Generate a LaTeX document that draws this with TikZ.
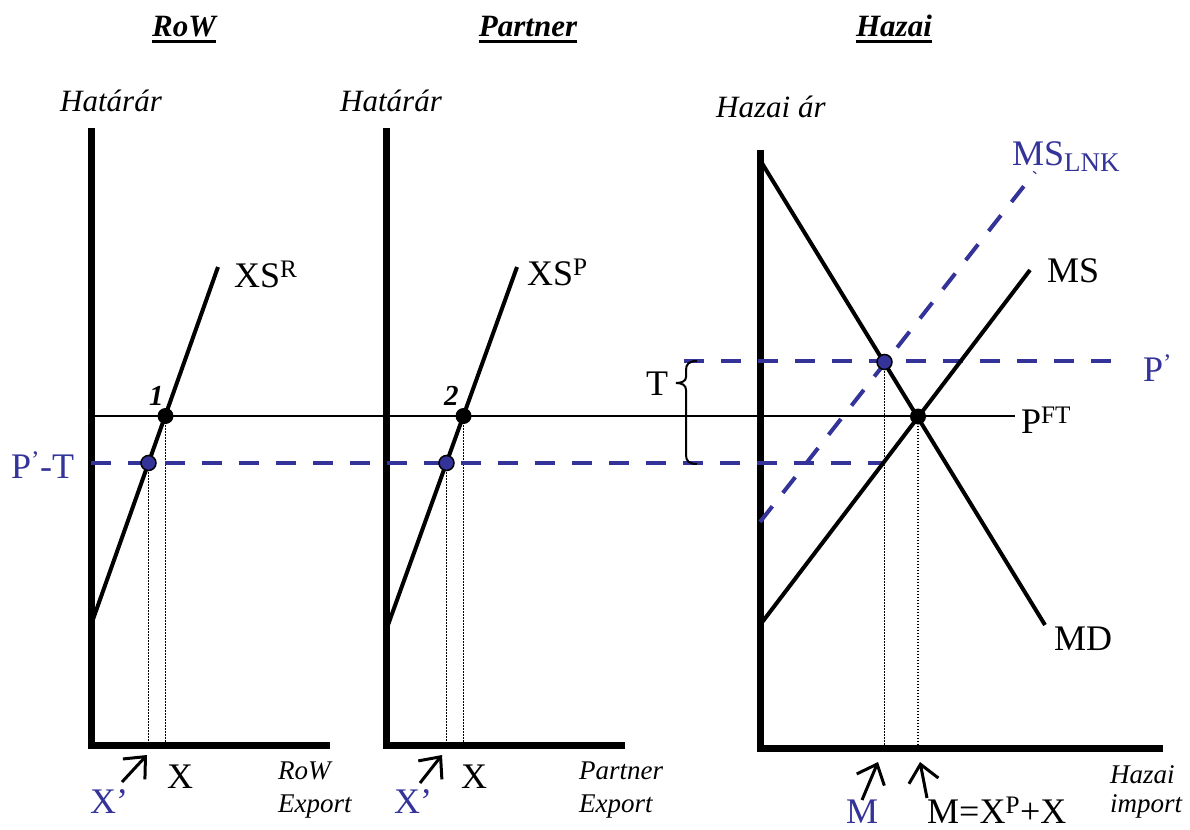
\documentclass[tikz,border=0pt]{standalone}
\usepackage{fontspec}
\setmainfont{Liberation Serif}
\usetikzlibrary{arrows.meta}
\definecolor{lblue}{RGB}{51,51,153}
\begin{document}
\begin{tikzpicture}[x=1pt,y=-1pt,
  axis/.style={line width=7pt},
  curve/.style={line width=4pt},
  bdash/.style={lblue,line width=4pt,dash pattern=on 20pt off 17pt},
  thinl/.style={line width=1.5pt},
  dotl/.style={line width=1.2pt,dash pattern=on 1.5pt off 1.5pt},
  lbl/.style={font=\fontsize{36}{40}\selectfont,inner sep=0pt,anchor=base west},
  ilbl/.style={font=\fontsize{31}{36}\selectfont\itshape,inner sep=0pt,anchor=base west},
  slbl/.style={font=\fontsize{27}{30}\selectfont\itshape,inner sep=0pt,anchor=base west},
  ttl/.style={font=\fontsize{31}{36}\selectfont\bfseries\itshape,inner sep=0pt,anchor=base},
  numl/.style={font=\fontsize{29}{32}\selectfont\bfseries\itshape,inner sep=0pt,anchor=base west},
  bdot/.style={fill=black},
  udot/.style={fill=lblue,draw=black,line width=1.5pt},
  uparr/.style={line width=3pt,-{Straight Barb[length=17pt,width=30pt]}}
]
\useasboundingbox (0,0) rectangle (1190,829);

% ---------- coordinates ----------
\coordinate (LAt) at (91,128);   \coordinate (LAb) at (91,748);
\coordinate (LHs) at (88,745);   \coordinate (LHe) at (330,745);
\coordinate (MAt) at (386,128);  \coordinate (MAb) at (386,748);
\coordinate (MHs) at (383,745);  \coordinate (MHe) at (625,745);
\coordinate (RAt) at (760,150);  \coordinate (RAb) at (760,751);
\coordinate (RHs) at (757,748);  \coordinate (RHe) at (1163,748);

\coordinate (XSRa) at (91,625);  \coordinate (XSRb) at (218,267);
\coordinate (XSPa) at (388,625); \coordinate (XSPb) at (517,267);
\coordinate (MDa) at (760,160);  \coordinate (MDb) at (1045,625);
\coordinate (MSa) at (760,625);  \coordinate (MSb) at (1030,270);
\coordinate (MLa) at (760,522);  \coordinate (MLb) at (1035,172);

\coordinate (p1) at (165.5,416); \coordinate (q1) at (148.5,463);
\coordinate (p2) at (463.5,416); \coordinate (q2) at (446.5,463);
\coordinate (p3) at (918,416.5); \coordinate (q3) at (884.5,362);

\coordinate (ftS) at (88,416);   \coordinate (ftE) at (1015,416);
\coordinate (ptS) at (91,463);   \coordinate (ptE) at (885,463);
\coordinate (pS) at (684,361);   \coordinate (pE) at (1120,361);

% ---------- axes ----------
\draw[axis] (LAt) -- (LAb);  \draw[axis] (LHs) -- (LHe);
\draw[axis] (MAt) -- (MAb);  \draw[axis] (MHs) -- (MHe);
\draw[axis] (RAt) -- (RAb);  \draw[axis] (RHs) -- (RHe);

% ---------- dotted drop lines ----------
\draw[dotl] (q1) -- (q1 |- LHs);
\draw[dotl] (p1) -- (p1 |- LHs);
\draw[dotl] (q2) -- (q2 |- MHs);
\draw[dotl] (p2) -- (p2 |- MHs);
\draw[dotl] (q3) -- (q3 |- RHs);
\draw[dotl] (p3) -- (p3 |- RHs);

% ---------- price lines ----------
\draw[thinl] (ftS) -- (ftE);
\draw[bdash] (ptS) -- (ptE);
\draw[bdash] (pS) -- (pE);

% ---------- curves ----------
\draw[curve] (XSRa) -- (XSRb);
\draw[curve] (XSPa) -- (XSPb);
\draw[curve] (MDa) -- (MDb);
\draw[curve] (MSa) -- (MSb);
\draw[bdash] (MLa) -- (MLb);

% ---------- brace ----------
\draw[line width=2pt] (697,361) .. controls (689,361) and (686,364) .. (686,370)
  -- (686,377) .. controls (686,381) and (682,383) .. (676,383)
  .. controls (682,383) and (686,385) .. (686,390)
  -- (686,455) .. controls (686,461) and (689,464) .. (697,464);

% ---------- dots ----------
\fill[bdot] (p1) circle[radius=8pt];
\fill[bdot] (p2) circle[radius=8pt];
\fill[bdot] (p3) circle[radius=8pt];
\draw[udot] (q1) circle[radius=7.5pt];
\draw[udot] (q2) circle[radius=7.5pt];
\draw[udot] (q3) circle[radius=7.5pt];

% ---------- titles ----------
\node[ttl] (tR) at (184,37) {RoW};
\node[ttl] (tP) at (528,37) {Partner};
\node[ttl] (tH) at (894,37) {Hazai};
\draw[line width=3pt] ([yshift=-5pt]tR.base west) -- ([yshift=-5pt]tR.base east);
\draw[line width=3pt] ([yshift=-5pt]tP.base west) -- ([yshift=-5pt]tP.base east);
\draw[line width=3pt] ([yshift=-5pt]tH.base west) -- ([yshift=-5pt]tH.base east);

% ---------- axis labels ----------
\node[ilbl] (yL) at (60,112) {Határár};
\node[ilbl] (yM) at (340,112) {Határár};
\node[ilbl] (yR) at (716,118) {Hazai ár};

\node[slbl] (xL1) at (278,779) {RoW};
\node[slbl] (xL2) at (278,812) {Export};
\node[slbl] (xM1) at (579,779) {Partner};
\node[slbl] (xM2) at (579,812) {Export};
\node[slbl] (xR1) at (1110,783) {Hazai};
\node[slbl] (xR2) at (1110,812) {import};

% ---------- curve labels ----------
\node[lbl] (lXSR) at (234,287) {XS\textsuperscript{R}};
\node[lbl] (lXSP) at (527,285) {XS\textsuperscript{P}};
\node[lbl] (lMS) at (1047,282) {MS};
\node[lbl] (lMD) at (1054,650) {MD};
\node[lbl] (lPFT) at (1021,433) {P\textsuperscript{FT}};
\node[lbl,text=lblue] (lP) at (1143,381) {P\textsuperscript{’}};
\node[lbl,text=lblue] (lML) at (1012,165) {MS\raisebox{-6pt}{\fontsize{27}{30}\selectfont LNK}};
\node[lbl] (lT) at (646,395) {T};
\node[lbl,text=lblue] (lPT) at (11,478) {P\textsuperscript{’}-T};
\node[numl] (n1) at (149,405) {1};
\node[numl] (n2) at (444,405) {2};

% ---------- quantity labels ----------
\node[lbl] (xX1) at (167,788) {X};
\node[lbl] (xX2) at (461,788) {X};
\node[lbl,text=lblue] (xXp1) at (90,813) {X’};
\node[lbl,text=lblue] (xXp2) at (394,813) {X’};
\node[lbl,text=lblue] (xM) at (846,823) {M};
\node[lbl] (xMeq) at (927,823) {M=X\textsuperscript{P}+X};

% ---------- arrows ----------
\coordinate (a1s) at (122,782); \coordinate (a1e) at (147,755);
\coordinate (a2s) at (420,783); \coordinate (a2e) at (442,755);
\coordinate (a3s) at (862,800); \coordinate (a3e) at (878,762);
\coordinate (a4s) at (927,798); \coordinate (a4e) at (920,762);
\draw[uparr] (a1s) -- (a1e);
\draw[uparr] (a2s) -- (a2e);
\draw[uparr] (a3s) -- (a3e);
\draw[uparr] (a4s) -- (a4e);
\end{tikzpicture}
\end{document}
